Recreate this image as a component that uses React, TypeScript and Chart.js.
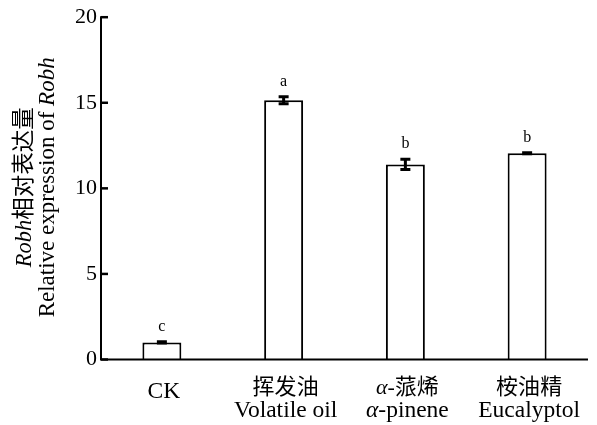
import React, { useEffect, useRef } from "react";
import { Chart, registerables } from "chart.js";

Chart.register(...registerables);

const categories: string[][] = [["CK"], ["挥发油", "Volatile oil"], ["α-蒎烯", "α-pinene"], ["桉油精", "Eucalyptol"]];
const values: number[] = [1.0, 15.15, 11.4, 12.05];
const errors: number[] = [0.03, 0.2, 0.3, 0.03];
const sigLetters: string[] = ["c", "a", "b", "b"];
const yTickValues: number[] = [0, 5, 10, 15, 20];
const yTitleLines: string[] = ["Robh相对表达量", "Relative expression of Robh"];

const FONT = "'Liberation Serif', 'Times New Roman', 'Noto Sans CJK SC', serif";

function segments(text: string) {
  return text.split(/(α|Robh)/).filter((s) => s.length > 0).map((s) => ({ text: s, italic: s === "α" || s === "Robh" }));
}

function drawRich(ctx: CanvasRenderingContext2D, text: string, cx: number, cy: number, size: number) {
  const segs = segments(text);
  let total = 0;
  const widths = segs.map((s) => {
    ctx.font = `${s.italic ? "italic " : ""}${size}px ${FONT}`;
    const w = ctx.measureText(s.text).width;
    total += w;
    return w;
  });
  let x = cx - total / 2;
  ctx.textAlign = "left";
  ctx.textBaseline = "middle";
  segs.forEach((s, i) => {
    ctx.font = `${s.italic ? "italic " : ""}${size}px ${FONT}`;
    ctx.fillText(s.text, x, cy);
    x += widths[i];
  });
}

const customPlugin = {
  id: "custom",
  afterDatasetsDraw(chart: any) {
    const ctx: CanvasRenderingContext2D = chart.ctx;
    const { left, right, top, bottom } = chart.chartArea;
    const ys = chart.scales.y;
    const xs = chart.scales.x;
    const meta = chart.getDatasetMeta(0);
    ctx.save();
    ctx.strokeStyle = "#000";
    ctx.fillStyle = "#000";

    // error bars
    values.forEach((v, i) => {
      const bar = meta.data[i];
      const x = bar.x;
      const yTop = ys.getPixelForValue(v + errors[i]);
      const yBot = ys.getPixelForValue(v - errors[i]);
      ctx.lineWidth = 3;
      ctx.beginPath();
      ctx.moveTo(x, yTop);
      ctx.lineTo(x, yBot);
      ctx.moveTo(x - 5, yTop);
      ctx.lineTo(x + 5, yTop);
      ctx.moveTo(x - 5, yBot);
      ctx.lineTo(x + 5, yBot);
      ctx.stroke();
      // letters
      ctx.font = `16px ${FONT}`;
      ctx.textAlign = "center";
      ctx.textBaseline = "alphabetic";
      ctx.fillText(sigLetters[i], x, yTop - 11);
    });

    // axes
    ctx.lineWidth = 2;
    ctx.beginPath();
    ctx.moveTo(left, top - 1);
    ctx.lineTo(left, bottom);
    ctx.moveTo(left - 1, bottom);
    ctx.lineTo(right, bottom);
    ctx.stroke();

    // inward y ticks
    ctx.lineWidth = 2.5;
    yTickValues.forEach((t) => {
      const y = ys.getPixelForValue(t);
      ctx.beginPath();
      ctx.moveTo(left, y);
      ctx.lineTo(left + 7, y);
      ctx.stroke();
    });

    // x labels
    categories.forEach((lines, i) => {
      const x = xs.getPixelForTick(i) + 2;
      if (lines.length === 1) {
        drawRich(ctx, lines[0], x, bottom + 32, 23.5);
      } else {
        drawRich(ctx, lines[0], x, bottom + 29, 22);
        drawRich(ctx, lines[1], x, bottom + 51, 23.5);
      }
    });

    // y title
    const cy = (top + bottom) / 2 - 1;
    ctx.save();
    ctx.translate(25, cy);
    ctx.rotate(-Math.PI / 2);
    drawRich(ctx, yTitleLines[0], 0, 0, 22.5);
    ctx.restore();
    ctx.save();
    ctx.translate(48, cy);
    ctx.rotate(-Math.PI / 2);
    drawRich(ctx, yTitleLines[1], 0, 0, 23);
    ctx.restore();

    ctx.restore();
  },
};

export default function App() {
  const ref = useRef<HTMLCanvasElement>(null);
  useEffect(() => {
    if (!ref.current) return;
    const chart = new Chart(ref.current, {
      type: "bar",
      data: {
        labels: categories.map((c) => c.join(" ")),
        datasets: [
          {
            data: values,
            backgroundColor: "#ffffff",
            borderColor: "#000000",
            borderWidth: 2,
            borderSkipped: "start",
            barPercentage: 0.32,
            categoryPercentage: 1,
          },
        ],
      },
      options: {
        responsive: false,
        animation: false,
        layout: { padding: { top: 16, right: 9, left: 0, bottom: 0 } },
        plugins: { legend: { display: false }, tooltip: { enabled: false } },
        scales: {
          x: {
            grid: { display: false, drawTicks: false },
            border: { display: false },
            ticks: { display: false },
            afterFit: (s: any) => {
              s.height = 65.5;
            },
          },
          y: {
            min: 0,
            max: 20,
            grid: { display: false, drawTicks: false },
            border: { display: false },
            ticks: {
              stepSize: 5,
              padding: 4,
              color: "#000",
              font: { family: FONT, size: 22 },
            },
            afterFit: (s: any) => {
              s.width = 101;
            },
          },
        },
      },
      plugins: [customPlugin],
    });
    return () => chart.destroy();
  }, []);
  return (
    <div style={{ position: "fixed", left: 0, top: 0, width: 597, height: 425, background: "#fff" }}>
      <canvas ref={ref} width={597} height={425} style={{ display: "block" }} />
    </div>
  );
}
